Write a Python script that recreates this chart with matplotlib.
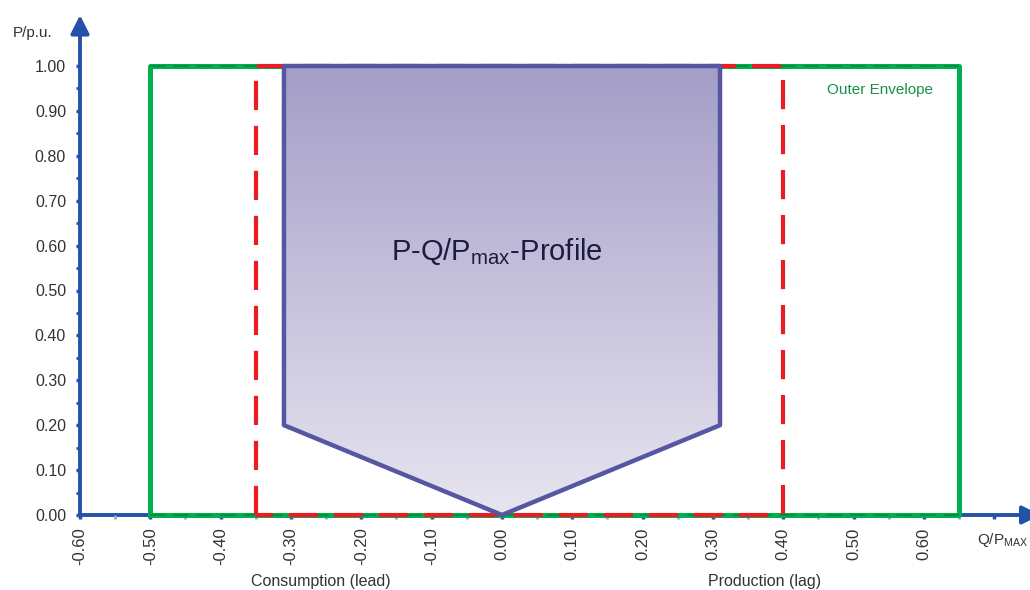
import numpy as np
import matplotlib
matplotlib.use("Agg")
import matplotlib.pyplot as plt
from matplotlib.patches import Polygon
from matplotlib.colors import LinearSegmentedColormap

plt.rcParams['font.family'] = ['Liberation Sans', 'DejaVu Sans']
plt.rcParams['mathtext.fontset'] = 'custom'
plt.rcParams['mathtext.rm'] = 'Liberation Sans'
plt.rcParams['mathtext.it'] = 'Liberation Sans'

# ---- data ----
profile_q = [-0.31, -0.31, 0.00, 0.31, 0.31]
profile_p = [1.00, 0.20, 0.00, 0.20, 1.00]
outer_q = [-0.50, -0.50, 0.65, 0.65, -0.50]
outer_p = [0.00, 1.00, 1.00, 0.00, 0.00]
outer_top_q = [-0.50, 0.65]
outer_top_p = [1.00, 1.00]
outer_bot_q = [-0.50, 0.65]
outer_bot_p = [0.00, 0.00]
limit_q = [-0.35, -0.35, 0.40, 0.40, -0.35]
limit_p = [0.00, 1.00, 1.00, 0.00, 0.00]
x_ticks = [-0.6, -0.5, -0.4, -0.3, -0.2, -0.1, 0.0, 0.1, 0.2, 0.3, 0.4, 0.5, 0.6, 0.7]
x_tick_labels = ['-0.60', '-0.50', '-0.40', '-0.30', '-0.20', '-0.10', '0.00',
                 '0.10', '0.20', '0.30', '0.40', '0.50', '0.60', '']
y_ticks = [0.0, 0.1, 0.2, 0.3, 0.4, 0.5, 0.6, 0.7, 0.8, 0.9, 1.0]
y_tick_labels = ['0.00', '0.10', '0.20', '0.30', '0.40', '0.50', '0.60',
                 '0.70', '0.80', '0.90', '1.00']

AXBLUE = '#2452a8'
MINBLUE = '#8aaad8'
GREEN = '#00b050'
DKGREEN = '#00903e'
RED = '#ec1c24'
EDGE = '#5656a2'

W, H = 1030, 590
fig = plt.figure(figsize=(W / 100, H / 100), dpi=100)
x0px, y0px = 80, 515
sx = 703.3   # px per unit
sy = 449.0
xmin, xmax = -0.6, -0.6 + (W - x0px) / sx
ymin, ymax = 0.0, (y0px - 15) / sy
ax = fig.add_axes([x0px / W, (H - y0px) / H, (W - x0px) / W, (y0px - 15) / H])
ax.set_xlim(xmin, xmax)
ax.set_ylim(ymin, ymax)
for s in ax.spines.values():
    s.set_visible(False)

# ticks
ax.set_xticks(x_ticks)
ax.set_xticklabels(x_tick_labels, rotation=90, fontsize=12, color='#333333')
ax.set_yticks(y_ticks)
ax.set_yticklabels(y_tick_labels, fontsize=11.5, color='#333333')
ax.set_xticks(np.array(x_ticks[:-1]) + 0.05, minor=True)
ax.set_yticks(np.array(y_ticks[:-1]) + 0.05, minor=True)
ax.tick_params(axis='x', which='major', length=3, width=2.5, color=AXBLUE, pad=6)
ax.tick_params(axis='y', which='major', length=3, width=2.5, color=AXBLUE, pad=7)
ax.tick_params(axis='x', which='minor', length=3, width=2.0, color=MINBLUE)
ax.tick_params(axis='y', which='minor', length=3, width=2.0, color=AXBLUE)

# axis lines with arrows
astyle = '-|>,head_width=0.25,head_length=0.5'
ax.annotate('', xy=(xmin, ymax), xytext=(xmin, 0), annotation_clip=False,
            arrowprops=dict(arrowstyle=astyle, color=AXBLUE, lw=2.8,
                            mutation_scale=22, shrinkA=0, shrinkB=0), zorder=1)
ax.annotate('', xy=(xmax + 0.015, 0), xytext=(xmin, 0), annotation_clip=False,
            arrowprops=dict(arrowstyle=astyle, color=AXBLUE, lw=2.8,
                            mutation_scale=22, shrinkA=0, shrinkB=0), zorder=1)

# outer envelope
ax.plot(outer_q, outer_p, color=GREEN, lw=3.6, zorder=3, clip_on=False,
        solid_joinstyle='round')
ax.plot(outer_top_q, outer_top_p, color=DKGREEN, lw=1.4, zorder=3.1,
        clip_on=False, dashes=(8, 4))
ax.plot(outer_bot_q, outer_bot_p, color=DKGREEN, lw=1.4, zorder=3.1,
        clip_on=False, dashes=(8, 4))

# red limit
ax.plot(limit_q, limit_p, color=RED, lw=3.0, zorder=4, clip_on=False,
        dashes=(7, 3.8))

# profile with gradient fill
poly = Polygon(np.column_stack([profile_q, profile_p]), closed=True,
               facecolor='none', edgecolor=EDGE, lw=3.2, zorder=6,
               joinstyle='round', clip_on=False)
ax.add_patch(poly)
cmap = LinearSegmentedColormap.from_list('g', ['#e7e5f0', '#a49ec8'])
grad = np.linspace(0, 1, 256).reshape(-1, 1)
im = ax.imshow(grad, cmap=cmap, origin='lower', aspect='auto',
               extent=(min(profile_q), max(profile_q), 0, 1), zorder=5)
clip = Polygon(np.column_stack([profile_q, profile_p]), closed=True,
               transform=ax.transData)
im.set_clip_path(clip)
ax.set_xlim(xmin, xmax)
ax.set_ylim(ymin, ymax)

# texts
ax.text(-0.007, 0.586, r'P-Q/P$_{\mathrm{max}}$-Profile', fontsize=21,
        color='#1c1c40', ha='center', va='center', zorder=7)
ax.text(0.5375, 0.9465, 'Outer Envelope', fontsize=11, color='#1b8f4a',
        ha='center', va='center', zorder=7)
ax.text(-0.668, 1.0735, 'P/p.u.', fontsize=11, color='#333333',
        ha='center', va='center', clip_on=False)
ax.text(-0.257, -0.149, 'Consumption (lead)', fontsize=11.5, color='#333333',
        ha='center', va='center', clip_on=False)
ax.text(0.374, -0.149, 'Production (lag)', fontsize=11.5, color='#333333',
        ha='center', va='center', clip_on=False)
ax.text(0.676, -0.056, r'Q/P$_{\mathrm{MAX}}$', fontsize=11, color='#333333',
        ha='left', va='center', clip_on=False)

fig.savefig('out.png', dpi=100)
